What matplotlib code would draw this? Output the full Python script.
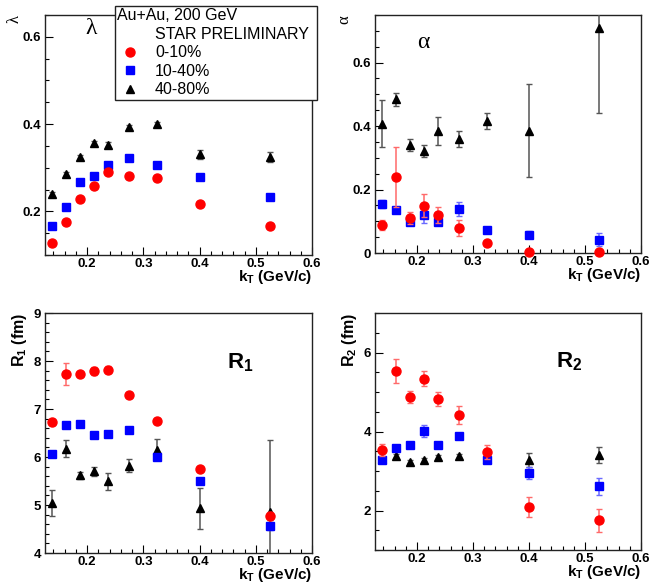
import numpy as np
import matplotlib
matplotlib.use("Agg")
import matplotlib.pyplot as plt
from matplotlib.ticker import MultipleLocator, FormatStrFormatter
from matplotlib.lines import Line2D

plt.rcParams['font.family'] = ['Liberation Sans', 'DejaVu Sans']
plt.rcParams['font.weight'] = 'bold'
plt.rcParams['axes.labelweight'] = 'bold'
plt.rcParams['mathtext.fontset'] = 'custom'
plt.rcParams['mathtext.rm'] = 'Liberation Sans:bold'
plt.rcParams['mathtext.it'] = 'Liberation Sans:bold'
plt.rcParams['mathtext.bf'] = 'Liberation Sans:bold'

# kT bin centres (GeV/c)
kt = [0.137, 0.162, 0.187, 0.212, 0.237, 0.275, 0.325, 0.400, 0.525]

# lambda
lam_0_10 = [0.128, 0.175, 0.229, 0.259, 0.290, 0.281, 0.276, 0.218, 0.167]
lam_0_10_err = [0.003, 0.003, 0.003, 0.003, 0.003, 0.003, 0.003, 0.003, 0.004]
lam_10_40 = [0.166, 0.209, 0.268, 0.280, 0.306, 0.322, 0.307, 0.279, 0.232]
lam_10_40_err = [0.003, 0.003, 0.003, 0.003, 0.004, 0.004, 0.004, 0.004, 0.005]
lam_40_80 = [0.240, 0.286, 0.325, 0.357, 0.353, 0.394, 0.400, 0.331, 0.325]
lam_40_80_err = [0.004, 0.004, 0.004, 0.005, 0.005, 0.005, 0.005, 0.010, 0.012]

# alpha
alpha_0_10 = [0.089, 0.239, 0.110, 0.149, 0.121, 0.080, 0.031, 0.003, 0.002]
alpha_0_10_err = [0.015, 0.095, 0.018, 0.037, 0.025, 0.025, 0.005, 0.003, 0.003]
alpha_10_40 = [0.154, 0.135, 0.097, 0.121, 0.097, 0.139, 0.074, 0.058, 0.042]
alpha_10_40_err = [0.012, 0.008, 0.008, 0.025, 0.010, 0.022, 0.008, 0.012, 0.020]
alpha_40_80 = [0.408, 0.484, 0.340, 0.321, 0.384, 0.358, 0.416, 0.386, 0.710]
alpha_40_80_err = [0.075, 0.020, 0.018, 0.020, 0.043, 0.025, 0.025, 0.146, 0.270]

# R1 (fm)
r1_0_10 = [6.72, 7.73, 7.73, 7.79, 7.82, 7.29, 6.76, 5.75, 4.77]
r1_0_10_err = [0.05, 0.22, 0.05, 0.08, 0.07, 0.05, 0.05, 0.05, 0.08]
r1_10_40 = [6.07, 6.67, 6.68, 6.46, 6.48, 6.56, 6.00, 5.49, 4.56]
r1_10_40_err = [0.05, 0.05, 0.05, 0.05, 0.05, 0.06, 0.06, 0.06, 0.08]
r1_40_80 = [5.05, 6.17, 5.62, 5.70, 5.49, 5.82, 6.15, 4.93, 4.86]
r1_40_80_err = [0.27, 0.18, 0.07, 0.09, 0.17, 0.14, 0.22, 0.42, 1.50]

# R2 (fm)
r2_0_10 = [3.53, 5.54, 4.88, 5.34, 4.83, 4.42, 3.49, 2.08, 1.75]
r2_0_10_err = [0.15, 0.30, 0.15, 0.20, 0.18, 0.22, 0.18, 0.25, 0.30]
r2_10_40 = [3.28, 3.58, 3.66, 4.01, 3.66, 3.88, 3.28, 2.94, 2.61]
r2_10_40_err = [0.08, 0.05, 0.05, 0.15, 0.06, 0.08, 0.06, 0.15, 0.22]
r2_40_80 = [3.30, 3.38, 3.24, 3.28, 3.36, 3.37, 3.30, 3.27, 3.41]
r2_40_80_err = [0.05, 0.05, 0.05, 0.05, 0.05, 0.05, 0.05, 0.18, 0.20]

labels = ['0-10%', '10-40%', '40-80%']

fig = plt.figure(figsize=(6.7, 5.83), dpi=100)
W, H = 670, 583


def make_axes(left, top, right, bottom):
    return fig.add_axes([left / W, 1 - bottom / H, (right - left) / W, (bottom - top) / H])


ax1 = make_axes(45, 15, 312, 255)
ax2 = make_axes(375, 15, 641, 253)
ax3 = make_axes(45, 313, 312, 553)
ax4 = make_axes(375, 313, 641, 550)


def draw_series(ax, black, black_err, blue, blue_err, red, red_err):
    sets = [(black, black_err, '^', 'black', '#555555', 6, 3),
            (blue, blue_err, 's', '#0000ff', '#6a6aff', 6, 4),
            (red, red_err, 'o', '#ff0000', '#ff6a6a', 6.5, 5)]
    for y, e, m, c, ec, ms, z in sets:
        cont = ax.errorbar(kt, y, yerr=e, fmt=m, color=c, ms=ms, mec=c,
                           ecolor=ec, elinewidth=1.1, capsize=2, zorder=z)
        cont[0].set_clip_on(False)


draw_series(ax1, lam_40_80, lam_40_80_err, lam_10_40, lam_10_40_err, lam_0_10, lam_0_10_err)
draw_series(ax2, alpha_40_80, alpha_40_80_err, alpha_10_40, alpha_10_40_err, alpha_0_10, alpha_0_10_err)
draw_series(ax3, r1_40_80, r1_40_80_err, r1_10_40, r1_10_40_err, r1_0_10, r1_0_10_err)
draw_series(ax4, r2_40_80, r2_40_80_err, r2_10_40, r2_10_40_err, r2_0_10, r2_0_10_err)

ylims = [(0.1, 0.65), (0.0, 0.75), (4, 9), (1, 7)]
ymajor = [0.2, 0.2, 1, 2]
yminor = [0.05, 0.05, 0.2, 0.5]
ylabels = ['λ', 'α', '$R_1$ (fm)', '$R_2$ (fm)']

for ax, yl, ma, mi, lab in zip([ax1, ax2, ax3, ax4], ylims, ymajor, yminor, ylabels):
    ax.set_xlim(0.125, 0.6)
    ax.set_ylim(*yl)
    ax.xaxis.set_major_locator(MultipleLocator(0.1))
    ax.xaxis.set_minor_locator(MultipleLocator(0.02))
    ax.yaxis.set_major_locator(MultipleLocator(ma))
    ax.yaxis.set_minor_locator(MultipleLocator(mi))
    ax.xaxis.set_major_formatter(FormatStrFormatter('%g'))
    ax.yaxis.set_major_formatter(FormatStrFormatter('%g'))
    ax.tick_params(which='both', direction='in', top=False, right=False,
                   labelsize=9.5, width=0.8)
    ax.tick_params(axis='x', pad=2)
    ax.tick_params(axis='y', pad=3)
    ax.tick_params(which='major', length=6)
    ax.tick_params(which='minor', length=3)
    for s in ax.spines.values():
        s.set_linewidth(1.0)
        s.set_color('#222222')
    ax.set_xlabel('$k_T$ (GeV/c)', loc='right', fontsize=11, labelpad=-1)
    if ax in (ax1, ax2):
        ax.set_ylabel(lab, loc='top', fontsize=12, family='Liberation Serif',
                      fontweight='normal', labelpad=0)
    else:
        ax.set_ylabel(lab, loc='top', fontsize=11.5, labelpad=3)

ax1.text(0.15, 0.92, 'λ', transform=ax1.transAxes, fontsize=17,
         family='Liberation Serif', fontweight='normal')
ax2.text(0.16, 0.86, 'α', transform=ax2.transAxes, fontsize=17,
         family='Liberation Serif', fontweight='normal')
ax3.text(0.68, 0.77, '$R_1$', transform=ax3.transAxes, fontsize=16)
ax4.text(0.68, 0.77, '$R_2$', transform=ax4.transAxes, fontsize=16)

# legend
handles = [Line2D([], [], linestyle='none', marker='')]
handles += [Line2D([], [], linestyle='none', marker='o', color='#ff0000', ms=6.5),
            Line2D([], [], linestyle='none', marker='s', color='#0000ff', ms=6),
            Line2D([], [], linestyle='none', marker='^', color='black', ms=6)]
leg = fig.legend(handles, ['STAR PRELIMINARY'] + labels, title='Au+Au, 200 GeV',
                 alignment='left', loc='upper left',
                 bbox_to_anchor=(115 / W, 1 - 6 / H, (317 - 115) / W, 0),
                 mode='expand', prop={'size': 11.5, 'weight': 'normal'},
                 title_fontproperties={'size': 11.5, 'weight': 'normal'},
                 frameon=True, fancybox=False, edgecolor='#222222', framealpha=1,
                 borderpad=0.15, labelspacing=0.22, handlelength=1.6,
                 handletextpad=0.75, borderaxespad=0)
leg.get_frame().set_linewidth(1.0)
leg.set_zorder(10)

fig.savefig('out.png', dpi=100)
